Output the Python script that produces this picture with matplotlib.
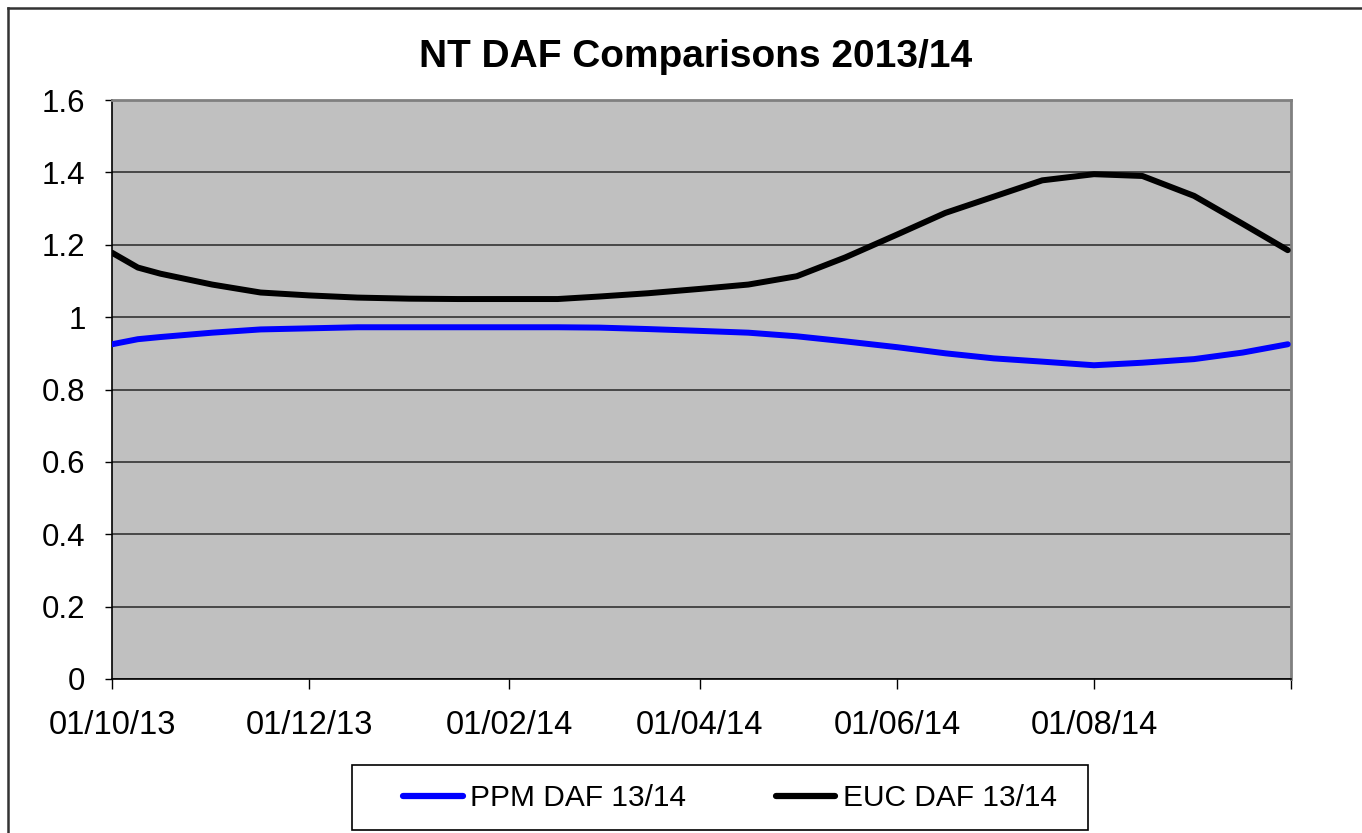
import numpy as np
import pandas as pd
import matplotlib
matplotlib.use('Agg')
import matplotlib.pyplot as plt
from matplotlib.lines import Line2D
from matplotlib.patches import Rectangle

plt.rcParams['font.family'] = ['Liberation Sans', 'DejaVu Sans']

# values, roughly twice a month
dates = pd.to_datetime([
    '2013-10-01', '2013-10-09', '2013-10-16', '2013-11-01', '2013-11-16', '2013-12-01',
    '2013-12-16', '2014-01-01', '2014-01-16', '2014-02-01', '2014-02-16',
    '2014-03-01', '2014-03-16', '2014-04-01', '2014-04-16', '2014-05-01',
    '2014-05-16', '2014-06-01', '2014-06-16', '2014-07-01', '2014-07-16',
    '2014-08-01', '2014-08-16', '2014-09-01', '2014-09-16', '2014-09-30',
])
ppm_daf = [0.925, 0.939, 0.945, 0.957, 0.966, 0.969, 0.972, 0.972, 0.972, 0.972, 0.972,
           0.971, 0.967, 0.962, 0.957, 0.947, 0.933, 0.917, 0.900, 0.886, 0.877,
           0.867, 0.874, 0.884, 0.902, 0.925]
euc_daf = [1.178, 1.137, 1.120, 1.090, 1.068, 1.060, 1.054, 1.051, 1.050, 1.050, 1.050,
           1.057, 1.066, 1.078, 1.090, 1.113, 1.165, 1.228, 1.288, 1.333, 1.378,
           1.395, 1.390, 1.335, 1.258, 1.185]

tick_dates = pd.to_datetime(['2013-10-01', '2013-12-01', '2014-02-01',
                             '2014-04-01', '2014-06-01', '2014-08-01', '2014-10-01'])
tick_labels = ['01/10/13', '01/12/13', '01/02/14', '01/04/14', '01/06/14', '01/08/14', '']
y_ticks = [0, 0.2, 0.4, 0.6, 0.8, 1, 1.2, 1.4, 1.6]
y_labels = ['0', '0.2', '0.4', '0.6', '0.8', '1', '1.2', '1.4', '1.6']

W, H = 1362, 833
fig = plt.figure(figsize=(W / 100, H / 100), dpi=100)
ax = fig.add_axes([112 / W, 1 - 679 / H, (1291 - 112) / W, (679 - 100) / H])
ax.set_facecolor('#C0C0C0')

ax.plot(dates, ppm_daf, color='#0000FF', lw=4.3, solid_capstyle='round',
        label='PPM DAF 13/14', zorder=3)
ax.plot(dates, euc_daf, color='black', lw=4.3, solid_capstyle='round',
        label='EUC DAF 13/14', zorder=3)

ax.set_xlim(tick_dates[0], tick_dates[-1])
ax.set_ylim(0, 1.6)
ax.set_yticks(y_ticks)
ax.set_yticklabels(y_labels)
ax.set_xticks(tick_dates)
ax.set_xticklabels(tick_labels)
ax.yaxis.grid(True, color='#333333', lw=1.2)
ax.set_axisbelow(True)

ax.tick_params(axis='y', length=5, width=1, pad=14, labelsize=22.5, colors='black')
ax.tick_params(axis='x', length=7, width=1, pad=15, labelsize=23.5, colors='black')
for s in ['left', 'bottom']:
    ax.spines[s].set_color('black')
    ax.spines[s].set_linewidth(1.2)
for s in ['top', 'right']:
    ax.spines[s].set_color('#808080')
    ax.spines[s].set_linewidth(2)

fig.text(696 / W, 1 - 57 / H, 'NT DAF Comparisons 2013/14', ha='center', va='center',
         fontsize=28, fontweight='bold')

# outer chart frame (only top and left edges are visible in the crop)
fig.add_artist(Line2D([8 / W, 1.0], [1 - 8 / H, 1 - 8 / H], color='#333333', lw=1.8))
fig.add_artist(Line2D([8 / W, 8 / W], [0, 1 - 8 / H], color='#333333', lw=1.8))

# legend box
fig.add_artist(Rectangle((352 / W, 1 - 830 / H), (1088 - 352) / W, (830 - 765) / H,
                         transform=fig.transFigure, fill=False, ec='black', lw=1.2))
leg = fig.legend(loc='center left', ncol=2, bbox_to_anchor=(403 / W, 1 - 798 / H),
                 borderaxespad=0, borderpad=0, fontsize=21.5, frameon=False,
                 handlelength=2.0, handletextpad=0.25, columnspacing=3.0)
for line in leg.get_lines():
    line.set_linewidth(4.5)

fig.savefig('out.png', dpi=100)
